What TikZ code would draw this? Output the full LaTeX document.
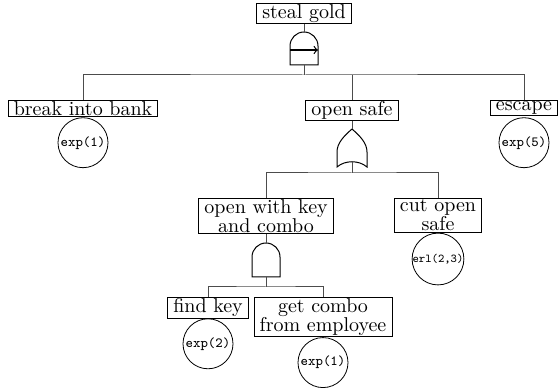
\documentclass[tikz,border=0pt]{standalone}
\begin{document}
\begin{tikzpicture}[x=0.5pt,y=-0.5pt,
        event/.style={draw,anchor=north,align=center,inner xsep=2.8pt,inner ysep=0.6pt,font=\fontsize{10}{9.5}\selectfont},
        basic/.style={draw,circle,anchor=north,minimum size=25pt,inner sep=0pt,font=\ttfamily\fontsize{7}{8}\selectfont},
        wire/.style={draw=black!70,line width=0.5pt},
        gate/.style={draw,line width=0.5pt}]
        \useasboundingbox (0,0) rectangle (558,390);

        \node[event] (steal) at (304,3) {steal gold};
        \node[event] (bank) at (83,100) {break into bank};
        \node[event] (safe) at (352,100) {open safe};
        \node[event] (escape) at (524,100) {escape};
        \node[event] (keycombo) at (266,198) {open with key\\and combo};
        \node[event] (cut) at (438,198) {cut open\\safe};
        \node[event] (key) at (208,297) {find key};
        \node[event] (combo) at (323,297) {get combo\\from employee};

        \node[basic] (bankrate) at (bank.south) {exp(1)};
        \node[basic] (escaperate) at (escape.south |- bank.south) {exp(5)};
        \node[basic,font=\ttfamily\fontsize{6}{7}\selectfont] (cutrate) at (cut.south) {erl(2,3)};
        \node[basic] (keyrate) at (key.south) {exp(2)};
        \node[basic] (comborate) at (combo.south) {exp(1)};

        % gates
        \path[gate] (290,65) -- (290,46) arc[start angle=180,end angle=360,radius=14] -- (318,65) -- cycle;
        \draw[->,line width=0.6pt] (290,50) -- (318,50);
        \path[gate] (352,129) .. controls (360,136) and (367,143) .. (367,152) -- (367,167)
              .. controls (359,160) and (345,160) .. (337,167) -- (337,152)
              .. controls (337,143) and (344,136) .. (352,129);
        \path[gate] (252,277) -- (252,257) arc[start angle=180,end angle=360,radius=14] -- (280,277) -- cycle;

        \coordinate (topin) at (304,32);
        \coordinate (topout) at (304,65);
        \coordinate (topbus) at (304,75);
        \coordinate (orin) at (352,129);
        \coordinate (orout) at (352,162);
        \coordinate (orbus) at (352,173);
        \coordinate (andin) at (266,243);
        \coordinate (andout) at (266,277);
        \coordinate (andbus) at (266,287);

        \draw[wire] (steal.south) -- (topin);
        \draw[wire] (topout) -- (topbus);
        \draw[wire] (bank.north) |- (topbus) -| (escape.north);
        \draw[wire] (safe.north) -- (safe.north |- topbus);
        \draw[wire] (safe.south) -- (orin);
        \draw[wire] (orout) -- (orbus);
        \draw[wire] (keycombo.north) |- (orbus) -| (cut.north);
        \draw[wire] (keycombo.south) -- (andin);
        \draw[wire] (andout) -- (andbus);
        \draw[wire] (key.north) |- (andbus) -| (combo.north);
      \end{tikzpicture}
\end{document}
